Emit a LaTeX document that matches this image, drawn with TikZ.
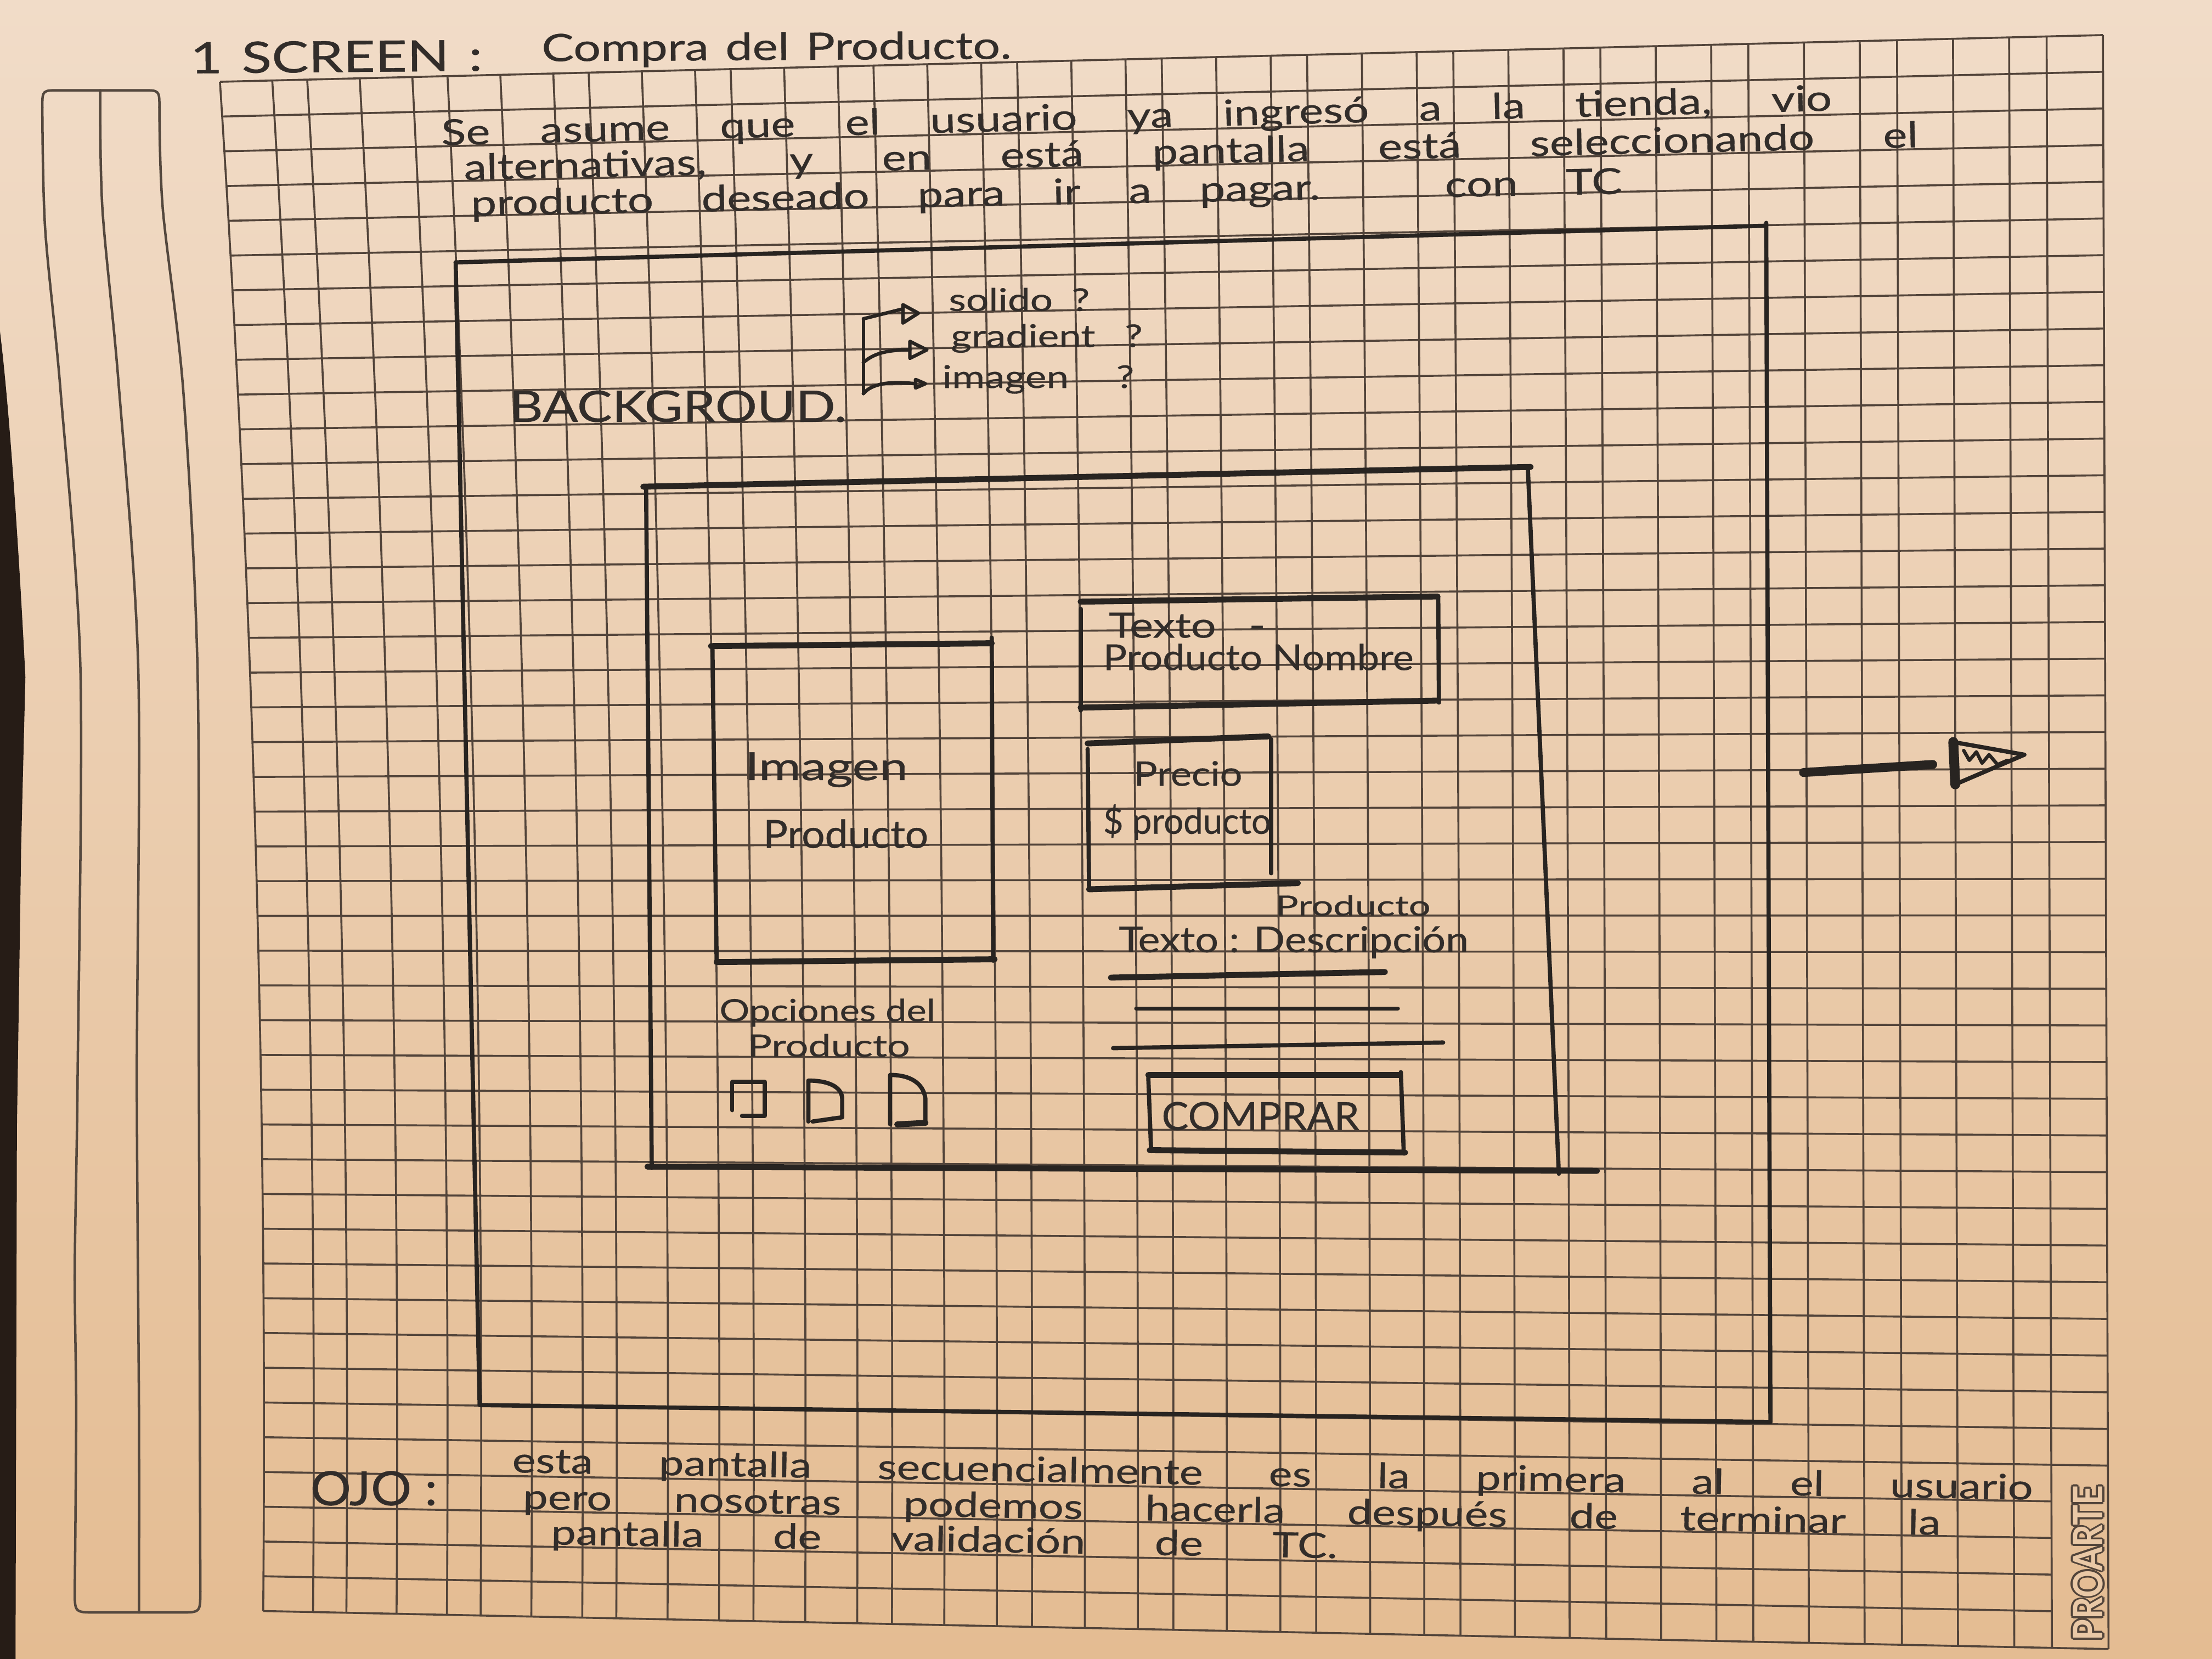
\documentclass[tikz,border=0pt]{standalone}
\usepackage{fontspec}
\usepackage{graphicx}
\newfontfamily\hand[FakeStretch=1.28, FakeBold=0.6]{Lato}
\newfontfamily\brand{Lato}
\newdimen\pxu \pxu=0.01cm
\newsavebox\hwbox
% a handwritten line: spaces stretch to the given width, or the line is squeezed if too long
\newcommand\fitline[2]{\sbox\hwbox{#2}\ifdim\wd\hwbox>#1\pxu\relax\resizebox{#1\pxu}{\height}{#2}\else\makebox[#1\pxu][s]{#2}\fi}
% a single word set to an exact width
\newcommand\fitword[2]{\resizebox{#1\pxu}{\height}{#2}}
\newcommand\hs[1]{\hand\fontsize{#1}{#1}\selectfont}
\definecolor{paperTop}{RGB}{241,220,200}
\definecolor{paperMid}{RGB}{233,200,166}
\definecolor{paperBot}{RGB}{228,188,146}
\definecolor{gridc}{RGB}{82,68,58}
\definecolor{ink}{RGB}{50,45,42}
\definecolor{lead}{RGB}{40,36,33}
\definecolor{desk}{RGB}{38,28,22}
\definecolor{stripc}{RGB}{84,72,62}
\begin{document}
\begin{tikzpicture}[x=0.01cm, y=-0.01cm,
  gridln/.style={draw=gridc, line width=0.4pt},
  pen/.style={draw=lead, line width=0.85pt, line cap=round, line join=round},
  penthick/.style={draw=lead, line width=1.2pt, line cap=round, line join=round},
  stripln/.style={draw=stripc, line width=0.5pt, line cap=round},
  hw/.style={inner sep=0pt, outer sep=0pt, anchor=base west, text=ink}]
\useasboundingbox (0,0) rectangle (1568,1176);

% paper
\shade[top color=paperTop, middle color=paperMid, bottom color=paperBot] (0,0) rectangle (1568,1176);
% desk showing at the left edge
\fill[desk] (0,235) .. controls (8,300) and (15,420) .. (18,480) -- (15,600) -- (12,800) -- (11,1176) -- (0,1176) -- cycle;

% ---------- grid of the sheet ----------
\foreach \u in {0,1.5,2.5,4,5.5,6.5,8,9.5,10.5,12,13.5,14.5,16,17.5,18.5,20,21.5,22.5,24,25.5,26.5,28,29.5,30.5,32,33.5,34.5,36,37.5,38.5,40,41.5,42.5,44,45.5,46.5,48,49.5,50.5,52}{
  \pgfmathsetmacro\kk{(\u-1.5)/4}
  \pgfmathsetmacro\xt{193+99*\kk+0.3*\kk*\kk}
  \pgfmathsetmacro\xb{221.9+94.4*\kk+0.508*\kk*\kk}
  \pgfmathsetmacro\yt{58-0.0248*(\xt-155)}
  \pgfmathsetmacro\yb{1142+0.0206*(\xb-186.6)}
  \pgfmathsetmacro\qx{(\xt+\xb)/2+20*(1-\u/52)^2}
  \pgfmathsetmacro\qy{(\yt+\yb)/2}
  \pgfmathsetmacro\cax{\xt+2/3*(\qx-\xt)}
  \pgfmathsetmacro\cay{\yt+2/3*(\qy-\yt)}
  \pgfmathsetmacro\cbx{\xb+2/3*(\qx-\xb)}
  \pgfmathsetmacro\cby{\yb+2/3*(\qy-\yb)}
  \draw[gridln] (\xt,\yt) .. controls (\cax,\cay) and (\cbx,\cby) .. (\xb,\yb);
}
\foreach \j in {0,...,44}{
  \pgfmathsetmacro\tj{\j/44}
  \pgfmathsetmacro\xl{(1-\tj)^2*155.92+2*\tj*(1-\tj)*191.2+\tj^2*186.57}
  \pgfmathsetmacro\yl{57.98+\tj*(1142-57.98)}
  \pgfmathsetmacro\xr{(\j<40 || \j==44) ? 1490.7+\tj*3.97 : 1450.77+\tj*3.73}
  \pgfmathsetmacro\yr{(\j<40 || \j==44) ? 24.87+\tj*1144.08 : 25.86+\tj*1142.24}
  \draw[gridln] (\xl,\yl) -- (\xr,\yr);
}

% ---------- ruled strip in the left margin ----------
\draw[stripln] plot[smooth] coordinates {(30,76) (32,162) (43,278) (57,474) (55,765) (53,900) (54,1000) (53,1128)};
\draw[stripln] (53,1128) .. controls (53,1143) .. (68,1143) -- (128,1143) .. controls (142,1143) .. (142,1128);
\draw[stripln] plot[smooth] coordinates {(142,1128) (141,765) (140,474) (130,278) (115.4,148) (113,76)};
\draw[stripln] (113,76) .. controls (113,64) .. (101,64) -- (42,64) .. controls (30,64) .. (30,76);
\draw[stripln] plot[smooth] coordinates {(71,64) (72.6,148) (84,271) (98,474) (97,765) (98.5,1000) (98.5,1143)};

% ---------- brand mark in the last column ----------
\foreach \a in {0,45,...,315}
  \node[inner sep=0pt, rotate=90, text=gridc, shift={(\a:1.4)}] at (1480,1108) {\resizebox{110\pxu}{21\pxu}{\brand\bfseries PROARTE}};
\node[inner sep=0pt, rotate=90, text=paperMid] (proarte) at (1480,1108) {\resizebox{110\pxu}{21\pxu}{\brand\bfseries PROARTE}};

% ---------- heading and intro ----------
\node[hw, font=\hs{8.7}, rotate=0.5] (title1) at (135,52) {\fitline{207}{1 SCREEN :}};
\node[hw, font=\hs{7.6}, rotate=0.3] (title2) at (384,43.4) {\fitline{333}{Compra del Producto.}};
\node[hw, font=\hs{7.2}, rotate=1.43] (intro1) at (313,103) {\fitline{986}{Se asume que el usuario ya ingresó a la tienda, vio}};
\node[hw, font=\hs{7.2}, rotate=1.29] (intro2) at (329,127.6) {\fitline{1031}{alternativas, y en está pantalla está seleccionando el}};
\node[hw, font=\hs{7.2}, rotate=1.1] (intro3) at (334,153) {\fitline{816}{producto deseado para ir a pagar. con TC}};

% ---------- background frame ----------
\draw[pen] (323,186) -- (1252,160);
\draw[pen] (323,186) -- (340,996);
\draw[pen] (340,996) -- (1255,1008);
\draw[pen] (1252,158) -- (1255,1008);

\node[hw, font=\hs{8.7}] (bg) at (361,299) {\fitword{239}{BACKGROUD.}};
\node[hw, font=\hs{6.3}] (opt1) at (672.5,220.4) {\fitline{100}{solido ?}};
\node[hw, font=\hs{6.3}] (opt2) at (674,246) {\fitline{136}{gradient ?}};
\node[hw, font=\hs{6.3}] (opt3) at (668,275) {\fitline{136}{imagen ?}};

% bracket with three small arrows
\coordinate (brtop) at (612,226);
\coordinate (brmid) at (612,257);
\coordinate (brbot) at (612,279);
\draw[pen, line width=0.7pt] (brtop) -- (brbot);
\draw[pen, line width=0.7pt] (brtop) -- (640,219);
\draw[pen, line width=0.7pt] (640,216) -- (651,222) -- (640,229) -- cycle;
\draw[pen, line width=0.7pt] (brmid) .. controls (620,250) and (630,248) .. (645,248);
\draw[pen, line width=0.7pt] (645,242) -- (657,248) -- (645,254) -- cycle;
\draw[pen, line width=0.7pt] (brbot) .. controls (618,272) and (630,270) .. (649,272);
\draw[pen, line width=0.7pt] (649,269) -- (656,272) -- (649,275) -- cycle;

% ---------- screen ----------
\draw[penthick] (456,345) -- (1085,331);
\draw[pen] (458,345) -- (462,828);
\draw[pen] (1083,331) -- (1105,832);
\draw[penthick] (459,827) -- (1132,830);

% product image
\draw[penthick] (504,458) -- (703,456);
\draw[pen] (505,458) -- (508,682);
\draw[pen] (703,452) -- (704,681);
\draw[penthick] (508,682) -- (705,680);
\node[hw, font=\hs{7.8}] (imgA) at (528,553) {\fitword{115.5}{Imagen}};
\node[hw, font=\hs{7.8}] (imgB) at (541,601) {\fitword{117}{Producto}};

% product name
\draw[penthick] (766,426.5) -- (1019,422.8);
\draw[pen] (766,431.6) -- (766,503.6);
\draw[pen] (1019.5,423) -- (1020,498);
\draw[penthick] (766,501.6) -- (1019.5,496.6);
\node[hw, font=\hs{7}] (nameA) at (786,452) {\fitline{111}{Texto -}};
\node[hw, font=\hs{7.2}] (nameB) at (782,475) {\fitline{220}{Producto Nombre}};

% price
\draw[penthick] (771,527) -- (899,522);
\draw[pen] (771,531) -- (772,630);
\draw[pen] (901,524) -- (901,619);
\draw[penthick] (772,630.4) -- (920,626);
\node[hw, font=\hs{6.8}] (priceA) at (803.6,557) {\fitword{77}{Precio}};
\node[hw, font=\hs{7.2}] (priceB) at (782,591) {\fitline{119}{\$ producto}};

% description
\node[hw, font=\hs{5.6}] (descA) at (904,649) {\fitword{110}{Producto}};
\node[hw, font=\hs{7.2}] (descB) at (793,675) {\fitline{248}{Texto : Descripción}};
\draw[penthick] (787.5,693) -- (981.7,689);
\draw[pen] (805.5,715) -- (990.8,715);
\draw[pen] (789,743) -- (1023,739);

% buy button
\draw[penthick] (814,762) -- (992,762);
\draw[pen] (814,764) -- (816,816);
\draw[pen] (993,760) -- (995,815);
\draw[penthick] (815,815.3) -- (996,817);
\node[hw, font=\hs{7.8}] (buy) at (823.5,801) {\fitword{140}{COMPRAR}};

% product options
\node[hw, font=\hs{6.2}] (optsA) at (510,724) {\fitline{153}{Opciones del}};
\node[hw, font=\hs{6.2}] (optsB) at (530,749) {\fitword{115}{Producto}};
\draw[pen] (519,787) -- (519,767) -- (542,767) -- (542,791) -- (526,791);
\draw[pen] (573,795) -- (573,766) .. controls (590,766) and (597,772) .. (597,779) -- (597,792) -- (576,795);
\draw[pen] (631,797) -- (631,762) .. controls (648,762) and (655,770) .. (656,779) -- (656,796);
\draw[penthick] (656,796) -- (636,797);

% ---------- next-screen arrow ----------
\draw[draw=lead, line width=1.8pt, line cap=round] (1278.5,547.6) -- (1370,541.9);
\draw[pen] (1384.6,526) -- (1435,535) -- (1386,556);
\draw[draw=lead, line width=2pt, line cap=round] (1384.6,526) -- (1386,556);
\draw[pen, line width=0.7pt] (1392,532) -- (1396,539) -- (1401,533) -- (1405,541) -- (1410,535) -- (1416,542) -- (1423,539);

% ---------- note ----------
\node[hw, font=\hs{9.5}] (ojo) at (220,1067) {\fitline{90}{OJO :}};
\node[hw, font=\hs{7}, rotate=-1.03] (note1) at (363,1043.7) {\fitline{1078}{esta pantalla secuencialmente es la primera al el usuario}};
\node[hw, font=\hs{7}, rotate=-1.05] (note2) at (370.6,1069.6) {\fitline{1005}{pero nosotras podemos hacerla después de terminar la}};
\node[hw, font=\hs{7}, rotate=-1.0] (note3) at (390.5,1094.8) {\fitline{557.5}{pantalla de validación de TC.}};
\end{tikzpicture}
\end{document}
